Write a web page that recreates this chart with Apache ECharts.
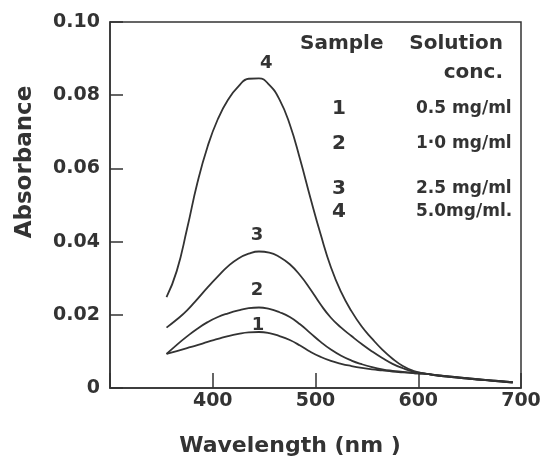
<!DOCTYPE html>
<html>
<head>
<meta charset="utf-8">
<script src="https://cdn.jsdelivr.net/npm/echarts@6/dist/echarts.min.js"></script>
<style>
  html, body { margin: 0; padding: 0; background: #fff; }
  #chart { width: 549px; height: 461px; }
</style>
</head>
<body>
<div id="chart"></div>
<script>
// 波长 (nm)
var wavelength = [355, 365, 375, 385, 395, 405, 415, 425, 435, 445, 455, 465, 475, 485, 495,
                  505, 515, 525, 535, 545, 555, 565, 575, 585, 595, 605, 625, 650, 675, 692];
// 吸光度
var abs1 = [0.0093, 0.0101, 0.0109, 0.0117, 0.0126, 0.0134, 0.0142, 0.0148, 0.0152, 0.0153, 0.0150, 0.0142, 0.0131, 0.0116, 0.0099,
            0.0085, 0.0074, 0.0066, 0.0060, 0.0055, 0.0051, 0.0048, 0.0045, 0.0043, 0.0041, 0.0039, 0.0032, 0.0025, 0.0019, 0.0015];
var abs2 = [0.0093, 0.0118, 0.0141, 0.0162, 0.0180, 0.0194, 0.0204, 0.0212, 0.0218, 0.0220, 0.0216, 0.0207, 0.0194, 0.0174, 0.0150,
            0.0126, 0.0105, 0.0088, 0.0075, 0.0065, 0.0057, 0.0051, 0.0047, 0.0044, 0.0041, 0.0039, 0.0032, 0.0025, 0.0019, 0.0015];
var abs3 = [0.0165, 0.0187, 0.0212, 0.0243, 0.0275, 0.0305, 0.0333, 0.0354, 0.0367, 0.0373, 0.0370, 0.0358, 0.0338, 0.0308, 0.0270,
            0.0228, 0.0192, 0.0165, 0.0142, 0.0120, 0.0100, 0.0082, 0.0066, 0.0054, 0.0045, 0.0040, 0.0033, 0.0026, 0.0020, 0.0016];
var abs4 = [0.0248, 0.0320, 0.0435, 0.0560, 0.0660, 0.0735, 0.0788, 0.0824, 0.0845, 0.0846, 0.0828, 0.0788, 0.0720, 0.0625, 0.0520,
            0.0420, 0.0330, 0.0262, 0.0210, 0.0168, 0.0135, 0.0105, 0.0080, 0.0060, 0.0047, 0.0040, 0.0033, 0.0026, 0.0020, 0.0016];

var sampleNames = ["1", "2", "3", "4"];
var concLabels = ["0.5 mg/ml", "1·0 mg/ml", "2.5 mg/ml", "5.0mg/ml."];
// 曲线编号位置 [nm, abs]
var curveLabelPos = [[444, 0.0172], [443, 0.0267], [443, 0.0417], [452, 0.0888]];

var FONT = "DejaVu Sans";
var INK = "#333";

function pairs(ys) {
  return wavelength.map(function (x, i) { return [x, ys[i]]; });
}

var seriesData = [abs1, abs2, abs3, abs4];

var chart = echarts.init(document.getElementById("chart"));

var series = seriesData.map(function (ys, i) {
  return {
    name: sampleNames[i],
    type: "line",
    data: pairs(ys),
    smooth: 0.5,
    symbol: "none",
    lineStyle: { color: INK, width: 1.8 },
    markPoint: {
      symbol: "circle",
      symbolSize: 1,
      itemStyle: { color: "transparent" },
      label: {
        show: true,
        position: "inside",
        formatter: sampleNames[i],
        color: INK,
        fontFamily: FONT,
        fontWeight: "bold",
        fontSize: 18
      },
      data: [{ coord: curveLabelPos[i] }]
    }
  };
});

// 图例表格 + 坐标轴标题
var rowY = [110, 145, 190, 213];
var textEls = [
  { type: "text", left: 300, top: 34, style: { text: "Sample", font: "bold 20px " + FONT, fill: INK } },
  { type: "text", right: 46, top: 34, style: { text: "Solution", font: "bold 20px " + FONT, fill: INK } },
  { type: "text", right: 46, top: 63, style: { text: "conc.", font: "bold 20px " + FONT, fill: INK } },
  {
    type: "text", x: 25, y: 162, rotation: Math.PI / 2,
    style: { text: "Absorbance", font: "bold 23px " + FONT, fill: INK, align: "center", verticalAlign: "middle" }
  },
  {
    type: "text", x: 290, y: 446,
    style: { text: "Wavelength (nm )", font: "bold 22px " + FONT, fill: INK, align: "center", verticalAlign: "middle" }
  }
];
rowY.forEach(function (y, i) {
  textEls.push({ type: "text", left: 332, top: y - 11, style: { text: sampleNames[i], font: "bold 20px " + FONT, fill: INK } });
  textEls.push({ type: "text", left: 416, top: y - 10, style: { text: concLabels[i], font: "bold 17px " + FONT, fill: INK } });
});

chart.setOption({
  animation: false,
  grid: {
    left: 110,
    right: 28,
    top: 22,
    bottom: 73,
    show: true,
    borderColor: INK,
    borderWidth: 1.5
  },
  xAxis: {
    type: "value",
    min: 300,
    max: 700,
    interval: 100,
    axisLine: { lineStyle: { color: INK, width: 1.5 } },
    axisTick: { inside: true, length: 15, lineStyle: { color: INK, width: 1.5 } },
    axisLabel: {
      color: INK,
      fontFamily: FONT,
      fontWeight: "bold",
      fontSize: 19,
      margin: 4,
      formatter: function (v) { return v === 300 ? "" : String(v); }
    },
    splitLine: { show: false }
  },
  yAxis: {
    type: "value",
    min: 0,
    max: 0.1,
    interval: 0.02,
    axisLine: { lineStyle: { color: INK, width: 1.5 } },
    axisTick: { inside: true, length: 13, lineStyle: { color: INK, width: 1.5 } },
    axisLabel: {
      color: INK,
      fontFamily: FONT,
      fontWeight: "bold",
      fontSize: 19,
      margin: 10,
      formatter: function (v) { return v === 0 ? "0" : v.toFixed(2); }
    },
    splitLine: { show: false }
  },
  graphic: textEls,
  series: series
});
</script>
</body>
</html>
